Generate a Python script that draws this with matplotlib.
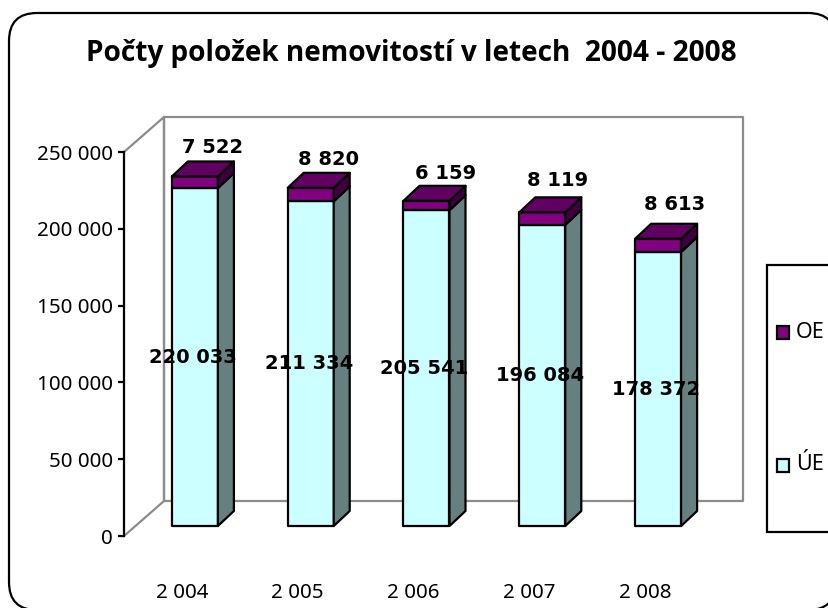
import matplotlib
matplotlib.use("Agg")
import matplotlib.pyplot as plt
from matplotlib.patches import FancyBboxPatch, Rectangle, Polygon

years = ["2 004", "2 005", "2 006", "2 007", "2 008"]
ue = [220033, 211334, 205541, 196084, 178372]
oe = [7522, 8820, 6159, 8119, 8613]
ue_labels = ["220 033", "211 334", "205 541", "196 084", "178 372"]
oe_labels = ["7 522", "8 820", "6 159", "8 119", "8 613"]
yticks = [0, 50000, 100000, 150000, 200000, 250000]
ytick_labels = ["0", "50 000", "100 000", "150 000", "200 000", "250 000"]
title = "Počty položek nemovitostí v letech  2004 - 2008"

W, H = 829, 608
FONT = "Noto Sans"
LW = 1.6
fig = plt.figure(figsize=(W / 100, H / 100), dpi=100, facecolor="white")

def fx(p): return p / W
def fy(p): return 1 - p / H

# chart frame (rounded), its right and bottom sides run past the picture
fig.add_artist(FancyBboxPatch((fx(9), fy(610)), fx(836 - 9), (610 - 13) / H,
    boxstyle="round,pad=0,rounding_size=%f" % (28 / W), mutation_aspect=W / H,
    transform=fig.transFigure, fc="white", ec="black", lw=LW, clip_on=False, zorder=-2))

left, right, top, bottom = 124, 703, 152, 536
ax = fig.add_axes([fx(left), fy(bottom), (right - left) / W, (bottom - top) / H])
ax.patch.set_alpha(0)
ax.set_zorder(1)
ax.set_xlim(0, 5)
ax.set_ylim(0, 250000)
px_x = (right - left) / 5
px_y = (bottom - top) / 250000

wall_dx, wall_dy = 40 / px_x, 35 / px_y
GREY = "#8c8c8c"
wall_kw = dict(color=GREY, lw=LW, clip_on=False, zorder=1, solid_capstyle="projecting")
ax.plot([0, wall_dx, wall_dx, 5 + wall_dx, 5 + wall_dx, wall_dx, wall_dx, 0],
        [250000, 250000 + wall_dy, wall_dy, wall_dy, 250000 + wall_dy, 250000 + wall_dy, wall_dy, 0],
        **wall_kw)

front_x, front_y = 13 / px_x, 10 / px_y
depth_x, depth_y = 16 / px_x, 15 / px_y
bw = 46 / px_x
edge = dict(ec="black", lw=LW, clip_on=False, joinstyle="round")

def box(x0, y0, y1, cf, cs, z):
    x = x0 + front_x - bw / 2
    ax.add_patch(Rectangle((x, y0 + front_y), bw, y1 - y0, fc=cf, zorder=z, **edge))
    xr = x + bw
    ax.add_patch(Polygon([(xr, y0 + front_y), (xr + depth_x, y0 + front_y + depth_y),
                          (xr + depth_x, y1 + front_y + depth_y), (xr, y1 + front_y)],
                         fc=cs, zorder=z, **edge))
    return x

bold = dict(family="DejaVu Sans", fontweight="bold", fontsize=14, ha="center", va="center",
            color="black", zorder=10, clip_on=False)

oe_dx = [18, 18, 19, 15, 16]
oe_dy = [29, 28, 27, 32, 34]

for i, (u, o) in enumerate(zip(ue, oe)):
    c = i + 0.5
    box(c, 0, u, "#CCFFFF", "#668080", 3)
    x = box(c, u, u + o, "#800080", "#400040", 4)
    yt = u + o + front_y
    ax.add_patch(Polygon([(x, yt), (x + depth_x, yt + depth_y),
                          (x + bw + depth_x, yt + depth_y), (x + bw, yt)],
                         fc="#600060", zorder=5, **edge))
    ax.text(c + front_x - 2 / px_x, u / 2 + front_y, ue_labels[i], **bold)
    ax.text(c + front_x + oe_dx[i] / px_x, u + o + front_y + oe_dy[i] / px_y, oe_labels[i], **bold)

for s in ["top", "right", "bottom"]:
    ax.spines[s].set_visible(False)
ax.spines["left"].set_linewidth(LW)
ax.set_xticks([i + 0.5 for i in range(5)])
ax.set_xticklabels(years, family=FONT, fontsize=14.8)
ax.tick_params(axis="x", length=0, pad=34)
ax.set_yticks(yticks)
ax.set_yticklabels(ytick_labels, family=FONT, fontsize=14.8)
ax.tick_params(axis="y", length=4, width=LW, pad=4)

fig.text(fx(411), fy(54), title, family="Open Sans", fontweight="bold", fontsize=20.2,
         ha="center", va="center", color="black")

fig.add_artist(Rectangle((fx(767), fy(532)), fx(70), (532 - 265) / H, transform=fig.transFigure,
                         fc="white", ec="black", lw=LW, clip_on=False, zorder=-1))
for label, color, yy in [("OE", "#800080", 332.5), ("ÚE", "#CCFFFF", 465)]:
    fig.add_artist(Rectangle((fx(777), fy(yy + 6.5)), 12 / W, 13 / H, transform=fig.transFigure,
                             fc=color, ec="black", lw=LW, zorder=2))
    fig.text(fx(796), fy(yy), label, family=FONT, fontsize=15.5, ha="left", va="center")

fig.savefig("out.png", dpi=100, facecolor="white")
